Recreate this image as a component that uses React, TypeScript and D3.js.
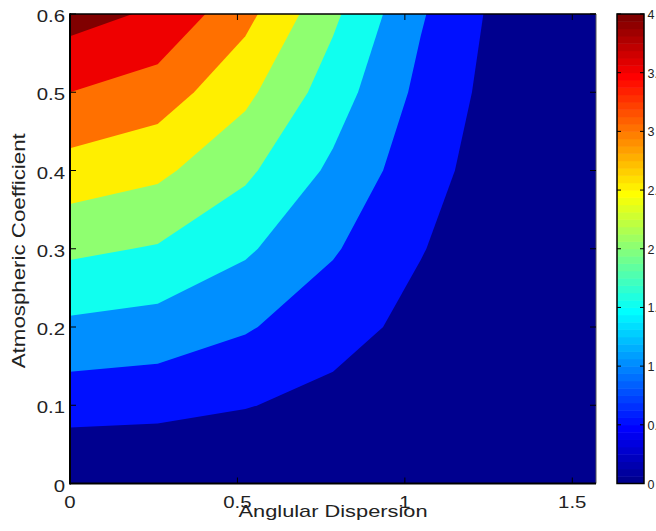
import React from 'react';
import * as d3 from 'd3';

// Grid of the surface (x: angular dispersion, y: atmospheric coefficient)
const xGrid = [0, 0.2618, 0.5236, 0.7854, 1.0472, 1.309, 1.5708];
const yGrid = [0, 0.1, 0.2, 0.3, 0.4, 0.5, 0.6];
// rows follow yGrid, columns follow xGrid
const zRows = [
  [0, 0, 0, 0, 0, 0, 0],
  [0.7, 0.653, 0.525, 0.35, 0.175, 0.047, 0],
  [1.4, 1.306, 1.05, 0.7, 0.35, 0.094, 0],
  [2.1, 1.96, 1.575, 1.05, 0.525, 0.141, 0],
  [2.8, 2.612, 2.1, 1.4, 0.7, 0.188, 0],
  [3.5, 3.266, 2.625, 1.75, 0.875, 0.234, 0],
  [4.2, 3.919, 3.15, 2.1, 1.05, 0.281, 0],
];
const levels = [0, 0.5, 1, 1.5, 2, 2.5, 3, 3.5, 4];
const xTicks = [0, 0.5, 1, 1.5];
const xTickLabels = ['0', '0.5', '1', '1.5'];
const yTicks = [0, 0.1, 0.2, 0.3, 0.4, 0.5, 0.6];
const yTickLabels = ['0', '0.1', '0.2', '0.3', '0.4', '0.5', '0.6'];
const cbTicks = [0, 0.5, 1, 1.5, 2, 2.5, 3, 3.5, 4];
const cbTickLabels = ['0', '0.5', '1', '1.5', '2', '2.5', '3', '3.5', '4'];
const cRange = [0, 4];
const xTitle = 'Anglular Dispersion';
const yTitle = 'Atmospheric Coefficient';

function jet(m: number): string[] {
  const n = Math.ceil(m / 4);
  const u: number[] = [];
  for (let i = 1; i <= n; i++) u.push(i / n);
  for (let i = 1; i <= n - 1; i++) u.push(1);
  for (let i = n; i >= 1; i--) u.push(i / n);
  const gOff = Math.ceil(n / 2) - (m % 4 === 1 ? 1 : 0);
  const J = Array.from({ length: m }, () => [0, 0, 0]);
  u.forEach((val, k) => {
    const g = gOff + k + 1;
    const r = g + n;
    const b = g - n;
    if (r >= 1 && r <= m) J[r - 1][0] = val;
    if (g >= 1 && g <= m) J[g - 1][1] = val;
    if (b >= 1 && b <= m) J[b - 1][2] = val;
  });
  return J.map(([r, g, b]) => d3.rgb(r * 255, g * 255, b * 255).formatHex());
}

const FONT = '"Liberation Sans", Arial, Helvetica, sans-serif';
const TXT = '#222';

export default function App() {
  const W = 656, H = 531;
  const L = 70, R = 596, T = 14, B = 483.5;
  const cbL = 617, cbR = 644;

  const x = d3.scaleLinear().domain([xGrid[0], xGrid[xGrid.length - 1]]).range([L, R]);
  const y = d3.scaleLinear().domain([yGrid[0], yGrid[yGrid.length - 1]]).range([B, T]);
  const cy = d3.scaleLinear().domain(cRange).range([B, T]);

  const nx = xGrid.length, ny = yGrid.length;
  const gx = d3.scaleLinear().domain([0.5, nx - 0.5]).range([xGrid[0], xGrid[nx - 1]]);
  const gy = d3.scaleLinear().domain([0.5, ny - 0.5]).range([yGrid[0], yGrid[ny - 1]]);
  const flat = zRows.flat();
  const contours = d3.contours().size([nx, ny]).thresholds(levels)(flat);
  const proj = d3.geoTransform({
    point(px: number, py: number) {
      (this as any).stream.point(x(gx(px)), y(gy(py)));
    },
  });
  const path = d3.geoPath(proj as any);

  const cmap = jet(64);
  const colorOf = (v: number) => {
    const idx = Math.max(0, Math.min(63, Math.floor(((v - cRange[0]) / (cRange[1] - cRange[0])) * 64)));
    return cmap[idx];
  };

  const tickLen = 6;

  return (
    <svg width={W} height={H} style={{ position: 'absolute', left: 0, top: 0, background: '#fff' }}>
      <defs>
        <clipPath id="plotClip">
          <rect x={L} y={T} width={R - L} height={B - T} />
        </clipPath>
      </defs>
      <g clipPath="url(#plotClip)">
        <rect x={L} y={T} width={R - L} height={B - T} fill={colorOf(0)} />
        {contours.map((c, i) => (
          <path key={i} d={path(c as any) || ''} fill={colorOf(c.value)} stroke="none" />
        ))}
      </g>
      {/* axes box */}
      <line x1={L} x2={R} y1={T} y2={T} stroke="#000" strokeWidth={1.5} />
      <line x1={R} x2={R} y1={T} y2={B} stroke="#555" strokeWidth={1} />
      <line x1={L} x2={L} y1={T - 0.75} y2={B + 1} stroke="#000" strokeWidth={2} />
      <line x1={L} x2={R} y1={B} y2={B} stroke="#000" strokeWidth={2} />
      {xTicks.map((t, i) => (
        <g key={'xt' + i}>
          <line x1={x(t)} x2={x(t)} y1={B} y2={B - tickLen} stroke="#000" strokeWidth={1} />
          <line x1={x(t)} x2={x(t)} y1={T} y2={T + tickLen} stroke="#000" strokeWidth={1} />
          <g transform={`translate(${x(t)},${508}) scale(1.2,1)`}>
            <text textAnchor="middle" fontFamily={FONT} fontSize={17} fill={TXT}>{xTickLabels[i]}</text>
          </g>
        </g>
      ))}
      {yTicks.map((t, i) => (
        <g key={'yt' + i}>
          <line x1={L} x2={L + tickLen} y1={y(t)} y2={y(t)} stroke="#000" strokeWidth={1} />
          <line x1={R} x2={R - tickLen} y1={y(t)} y2={y(t)} stroke="#000" strokeWidth={1} />
          <g transform={`translate(${L - 5},${y(t) + 8}) scale(1.2,1)`}>
            <text textAnchor="end" fontFamily={FONT} fontSize={17} fill={TXT}>{yTickLabels[i]}</text>
          </g>
        </g>
      ))}
      <text x={(L + R) / 2} y={517} textAnchor="middle" fontFamily={FONT} fontSize={17} fill={TXT}
        textLength={189} lengthAdjust="spacingAndGlyphs">{xTitle}</text>
      <text transform={`translate(25,${(T + B) / 2 + 2}) rotate(-90)`} textAnchor="middle" fontFamily={FONT}
        fontSize={18} fill={TXT} textLength={235} lengthAdjust="spacingAndGlyphs">{yTitle}</text>
      {/* colorbar */}
      {cmap.map((c, i) => {
        const v0 = cRange[0] + (i * (cRange[1] - cRange[0])) / 64;
        const v1 = cRange[0] + ((i + 1) * (cRange[1] - cRange[0])) / 64;
        return <rect key={'cb' + i} x={cbL} width={cbR - cbL} y={cy(v1)} height={cy(v0) - cy(v1) + 0.5} fill={c} />;
      })}
      <rect x={cbL} y={T} width={cbR - cbL} height={B - T} fill="none" stroke="#000" strokeWidth={1.5} />
      {cbTicks.map((t, i) => (
        <g key={'ct' + i}>
          <line x1={cbL} x2={cbL + 4} y1={cy(t)} y2={cy(t)} stroke="#000" strokeWidth={1} />
          <line x1={cbR} x2={cbR - 4} y1={cy(t)} y2={cy(t)} stroke="#000" strokeWidth={1} />
          <text x={647.5} y={cy(t) + 5} fontFamily={FONT} fontSize={12.5} fill={TXT}>{cbTickLabels[i]}</text>
        </g>
      ))}
    </svg>
  );
}
